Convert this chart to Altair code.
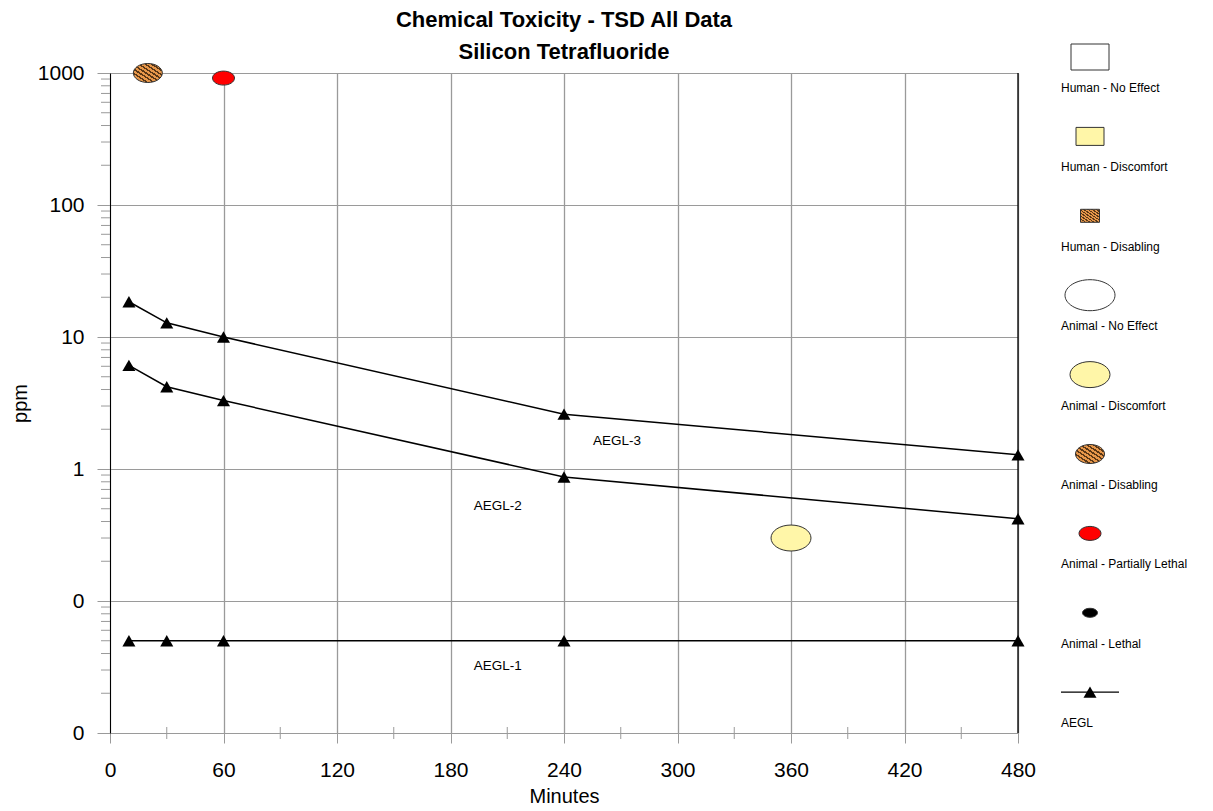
import altair as alt
import pandas as pd

# ---------------- data ----------------
aegl_minutes = [10, 30, 60, 240, 480]
aegl1_ppm = [0.05, 0.05, 0.05, 0.05, 0.05]
aegl2_ppm = [6.1, 4.2, 3.3, 0.87, 0.42]
aegl3_ppm = [18.5, 12.8, 10.0, 2.6, 1.28]

obs_category = ["Human - Disabling", "Animal - Partially Lethal", "Animal - Discomfort"]
obs_minutes = [20, 60, 360]
obs_ppm = [1000, 915, 0.3]

label_text = ["AEGL-3", "AEGL-2", "AEGL-1"]
label_minutes = [268, 205, 205]
label_ppm = [1.64, 0.525, 0.032]

legend_labels = [
    "Human - No Effect", "Human - Discomfort", "Human - Disabling",
    "Animal - No Effect", "Animal - Discomfort", "Animal - Disabling",
    "Animal - Partially Lethal", "Animal - Lethal", "AEGL",
]

x_ticks = [0, 60, 120, 180, 240, 300, 360, 420, 480]
x_minor = [30, 90, 150, 210, 270, 330, 390, 450]
y_ticks = [0.01, 0.1, 1, 10, 100, 1000]
y_minor = [k * 10.0 ** e for e in range(-2, 3) for k in range(2, 10)]

title_lines = ["Chemical Toxicity - TSD All Data", "Silicon Tetrafluoride"]

# ---------------- styles ----------------
FONT = "Liberation Sans"
GRID = "#9a9a9a"
YELLOW = "#FFF6A8"
RED = "#FF0000"


def rect_path(w, h):
    r = h / w
    return f"M-1,{-r}L1,{-r}L1,{r}L-1,{r}Z"


def ellipse_path(w, h):
    r = h / w
    return f"M-1,0A1,{r} 0 1,0 1,0A1,{r} 0 1,0 -1,0Z"


def hatch(n=9, c1="#E7974A", c2="#5A3716", frac=0.42):
    stops = []
    for k in range(n):
        a, b, e = k / n, (k + frac) / n, (k + 1) / n
        stops += [
            {"offset": a, "color": c2}, {"offset": b, "color": c2},
            {"offset": b, "color": c1}, {"offset": e, "color": c1},
        ]
    return {"gradient": "linear", "x1": 0, "y1": 1, "x2": 1, "y2": 0, "stops": stops}


# kind, width, height, fill
style = {
    "Human - No Effect": ("rect", 38, 26, "#FFFFFF"),
    "Human - Discomfort": ("rect", 28, 18, YELLOW),
    "Human - Disabling": ("rect", 19, 13, "hatch"),
    "Animal - No Effect": ("ellipse", 50, 31, "#FFFFFF"),
    "Animal - Discomfort": ("ellipse", 40, 26, YELLOW),
    "Animal - Disabling": ("ellipse", 29, 19, "hatch"),
    "Animal - Partially Lethal": ("ellipse", 22, 14, RED),
    "Animal - Lethal": ("ellipse", 15, 9, "#000000"),
}
plot_style = {
    "Human - Disabling": ("ellipse", 29, 19, "hatch"),
    "Animal - Partially Lethal": ("ellipse", 22, 14, RED),
    "Animal - Discomfort": ("ellipse", 40, 26, YELLOW),
}


def symbol_mark(kind, w, h, fill, stroke="#333333"):
    path = rect_path(w, h) if kind == "rect" else ellipse_path(w, h)
    f = hatch() if fill == "hatch" else fill
    return alt.MarkDef(type="point", shape=path, size=w * w, filled=True,
                       fill=f, stroke=stroke, strokeWidth=1.0, opacity=1,
                       fillOpacity=1)


# ---------------- main chart ----------------
X = alt.X(
    "minutes:Q",
    scale=alt.Scale(domain=[0, 480], nice=False, zero=False),
    axis=alt.Axis(
        values=x_ticks, title="Minutes", tickSize=10, tickColor=GRID,
        domainColor=GRID, labelFontSize=21, labelFont=FONT, labelColor="#000",
        labelPadding=16, labelFlush=False, titleFont=FONT, titleFontSize=20,
        titleFontWeight="normal", titleColor="#000", titlePadding=6,
        grid=True, gridColor=GRID, gridWidth=1.3,
    ),
)
Y = alt.Y(
    "ppm:Q",
    scale=alt.Scale(type="log", domain=[0.01, 1000], nice=False),
    axis=alt.Axis(
        values=y_ticks, title="ppm", tickSize=13, tickColor=GRID,
        domainColor="#000", labelFontSize=21, labelFont=FONT, labelColor="#000",
        labelPadding=13, labelExpr="datum.value >= 1 ? format(datum.value, 'd') : '0'",
        titleFont=FONT, titleFontSize=20, titleFontWeight="normal",
        titleColor="#000", titlePadding=7, grid=True, gridColor=GRID, gridWidth=1,
    ),
)

aegl_df = pd.DataFrame({
    "series": ["AEGL-1"] * 5 + ["AEGL-2"] * 5 + ["AEGL-3"] * 5,
    "minutes": aegl_minutes * 3,
    "ppm": aegl1_ppm + aegl2_ppm + aegl3_ppm,
})

lines = alt.Chart(aegl_df).mark_line(color="#000", strokeWidth=1.5).encode(
    x=X, y=Y, detail="series:N")
tris = alt.Chart(aegl_df).mark_point(
    shape="triangle-up", filled=True, size=170, color="#000", opacity=1
).encode(x=X, y=Y)

minor_y = alt.Chart(pd.DataFrame({"ppm": y_minor})).mark_rule(
    color=GRID, strokeWidth=1).encode(y=Y, x=alt.value(-9), x2=alt.value(0))
minor_x = alt.Chart(pd.DataFrame({"minutes": x_minor})).mark_rule(
    color=GRID, strokeWidth=1).encode(x=X, y=alt.value(654), y2=alt.value(666))
right_edge = alt.Chart(pd.DataFrame({"minutes": [480]})).mark_rule(
    color="#000", strokeWidth=1.3).encode(x=X)

obs_df = pd.DataFrame({"category": obs_category, "minutes": obs_minutes, "ppm": obs_ppm})
obs_layers = []
for cat in obs_category:
    kind, w, h, fill = plot_style[cat]
    ch = alt.Chart(obs_df[obs_df.category == cat]).encode(x=X, y=Y)
    ch.mark = symbol_mark(kind, w, h, fill)
    obs_layers.append(ch)

labels_df = pd.DataFrame({"text": label_text, "minutes": label_minutes, "ppm": label_ppm})
labels = alt.Chart(labels_df).mark_text(
    font=FONT, fontSize=13.5, color="#000", align="center", baseline="middle"
).encode(x=X, y=Y, text="text:N")

main = alt.layer(
    minor_y, minor_x, right_edge, lines, tris, labels, *obs_layers
).properties(
    width=908, height=660,
    title=alt.Title(title_lines, font=FONT, fontSize=22, fontWeight="bold",
                    color="#000", lineHeight=32, offset=-2, anchor="middle"),
)

# ---------------- legend panel ----------------
H_LEG = 660
STEP = 79.4
d0 = 16 / STEP
d1 = d0 + H_LEG / STEP
LY = lambda: alt.Y("idx:Q", scale=alt.Scale(domain=[d0, d1], reverse=True, nice=False, zero=False), axis=None)

leg_layers = []
for i, name in enumerate(legend_labels[:-1]):
    kind, w, h, fill = style[name]
    ch = alt.Chart(pd.DataFrame({"idx": [i]})).encode(x=alt.value(29), y=LY())
    ch.mark = symbol_mark(kind, w, h, fill)
    leg_layers.append(ch)

aegl_idx = len(legend_labels) - 1
leg_line = alt.Chart(pd.DataFrame({"idx": [aegl_idx]})).mark_rule(
    color="#000", strokeWidth=1.3).encode(x=alt.value(0), x2=alt.value(58), y=LY())
leg_tri = alt.Chart(pd.DataFrame({"idx": [aegl_idx]})).mark_point(
    shape="triangle-up", filled=True, size=170, color="#000", opacity=1
).encode(x=alt.value(29), y=LY())
leg_text = alt.Chart(pd.DataFrame({"idx": list(range(len(legend_labels))), "label": legend_labels})).mark_text(
    font=FONT, fontSize=12, color="#000", align="left", baseline="middle", dy=31
).encode(x=alt.value(0), y=LY(), text="label:N")

legend = alt.layer(*leg_layers, leg_line, leg_tri, leg_text).properties(width=100, height=H_LEG)

chart = alt.hconcat(main, legend, spacing=24).configure_view(strokeWidth=0).properties(
    background="#FFFFFF", padding={"left": 2, "top": 0, "right": 0, "bottom": 0}
)

chart.save("out.html", embed_options={"renderer": "svg", "actions": False})
